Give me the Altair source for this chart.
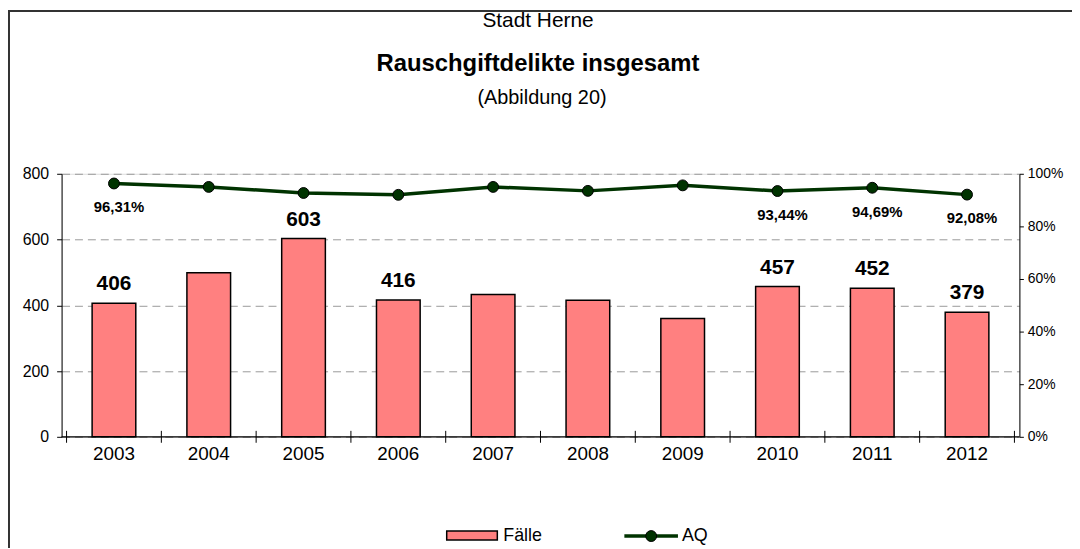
import altair as alt
import pandas as pd

# ---- data ----
years = [2003, 2004, 2005, 2006, 2007, 2008, 2009, 2010, 2011, 2012]
faelle = [406, 499, 603, 416, 433, 415, 360, 457, 452, 379]
aq = [96.31, 95.0, 92.7, 92.0, 95.0, 93.5, 95.6, 93.44, 94.69, 92.08]
faelle_label_years = [2003, 2005, 2006, 2010, 2011, 2012]
aq_label_years = [2003, 2010, 2011, 2012]
left_ticks = [0, 200, 400, 600, 800]
right_ticks = [0, 0.2, 0.4, 0.6, 0.8, 1.0]
boundaries = [y - 0.5 for y in years] + [years[-1] + 0.5]

title_line1 = "Stadt Herne"
title_line2 = "Rauschgiftdelikte insgesamt"
title_line3 = "(Abbildung 20)"
legend_bar = "Fälle"
legend_line = "AQ"

FONT = "Liberation Sans"
W, H = 965, 265

df = pd.DataFrame({"year": years, "faelle": faelle, "aq": [v / 100 for v in aq]})
df["year_txt"] = [str(y) for y in years]
df["faelle_txt"] = [str(v) if y in faelle_label_years else "" for y, v in zip(years, faelle)]
df["aq_txt"] = [(f"{v:.2f}".replace(".", ",") + "%") if y in aq_label_years else "" for y, v in zip(years, aq)]
bdf = pd.DataFrame({"b": boundaries})
one = pd.DataFrame({"k": [0]})

xscale = alt.Scale(domain=[years[0] - 0.5, years[-1] + 0.5], nice=False, zero=False)
X = alt.X("year:Q", scale=xscale, axis=None)

base = alt.Chart(df)

bars = base.mark_bar(size=44, color="#FF8080", stroke="black", strokeWidth=1.5).encode(
    x=X,
    y=alt.Y("faelle:Q", scale=alt.Scale(domain=[0, 800], nice=False),
            axis=alt.Axis(values=left_ticks, grid=True, gridDash=[8, 5], gridColor="#999999",
                          gridWidth=1, domainColor="black", tickColor="black", tickSize=5,
                          labelFontSize=16, labelPadding=8, labelColor="black",
                          labelFont=FONT, title=None)),
)
bar_labels = base.transform_filter(alt.datum.faelle_txt != "").mark_text(
    font=FONT, fontSize=21, fontWeight="bold", baseline="alphabetic", dy=-13, color="black"
).encode(x=X, y=alt.Y("faelle:Q"), text="faelle_txt:N")

left = alt.layer(bars, bar_labels)

yr = alt.Y("aq:Q", scale=alt.Scale(domain=[0, 1], nice=False),
           axis=alt.Axis(orient="right", values=right_ticks, format=".0%", grid=False,
                         domainColor="black", tickColor="black", tickSize=4,
                         labelFontSize=14, labelPadding=4, labelColor="black",
                         labelFont=FONT, title=None))
line = base.mark_line(color="#003300", strokeWidth=3.5).encode(x=X, y=yr)
points = base.mark_point(filled=True, size=120, color="#003300", stroke="black",
                         strokeWidth=1, opacity=1).encode(x=X, y=alt.Y("aq:Q"))
aq_labels = base.transform_filter(alt.datum.aq_txt != "").mark_text(
    font=FONT, fontSize=15, fontWeight="bold", baseline="middle", dy=24, dx=5, color="black"
).encode(x=X, y=alt.Y("aq:Q"), text="aq_txt:N")

right = alt.layer(line, points, aq_labels)

# bottom axis line, year labels and ticks crossing the axis at category boundaries
xaxis_line = alt.Chart(one).mark_rule(color="black", strokeWidth=1.2).encode(
    x=alt.value(0), x2=alt.value(W), y=alt.value(H))
year_labels = base.mark_text(font=FONT, fontSize=19, baseline="middle", color="black").encode(
    x=X, y=alt.value(H + 17), text="year_txt:N")
xticks = alt.Chart(bdf).mark_rule(color="black", strokeWidth=1).encode(
    x=alt.X("b:Q", scale=xscale, axis=None), y=alt.value(H - 6), y2=alt.value(H + 6))

o = alt.Chart(one)
frame = o.mark_rect(fillOpacity=0, stroke="#333333", strokeWidth=2).encode(
    x=alt.value(-53), x2=alt.value(1100), y=alt.value(-164), y2=alt.value(500))
t1 = o.mark_text(text=title_line1, font=FONT, fontSize=21, baseline="middle",
                 color="black").encode(x=alt.value(480), y=alt.value(-154))
t2 = o.mark_text(text=title_line2, font=FONT, fontSize=24, fontWeight="bold",
                 baseline="middle", color="black").encode(x=alt.value(480), y=alt.value(-111))
t3 = o.mark_text(text=title_line3, font=FONT, fontSize=20, baseline="middle",
                 color="black").encode(x=alt.value(484), y=alt.value(-76))

leg_rect = o.mark_rect(fill="#FF8080", stroke="black", strokeWidth=1.5).encode(
    x=alt.value(388), x2=alt.value(439), y=alt.value(360), y2=alt.value(369))
leg_t1 = o.mark_text(text=legend_bar, font=FONT, fontSize=18, align="left",
                     baseline="middle", color="black").encode(x=alt.value(445), y=alt.value(365))
leg_line = o.mark_rule(color="#003300", strokeWidth=3.5).encode(
    x=alt.value(567), x2=alt.value(621), y=alt.value(365))
leg_pt = o.mark_point(filled=True, size=120, color="#003300", stroke="black",
                      strokeWidth=1, opacity=1).encode(x=alt.value(594), y=alt.value(365))
leg_t2 = o.mark_text(text=legend_line, font=FONT, fontSize=18, align="left",
                     baseline="middle", color="black").encode(x=alt.value(625), y=alt.value(365))

chart = alt.layer(
    frame, left, right, xaxis_line, year_labels, xticks, t1, t2, t3,
    leg_rect, leg_t1, leg_line, leg_pt, leg_t2
).resolve_scale(y="independent").properties(
    width=W, height=H,
    autosize=alt.AutoSizeParams(type="none"),
    padding={"left": 54, "top": 165, "right": 53, "bottom": 110},
).configure_view(stroke=None).configure(background="white")

chart.save("out.html", embed_options={"renderer": "svg", "actions": False})
